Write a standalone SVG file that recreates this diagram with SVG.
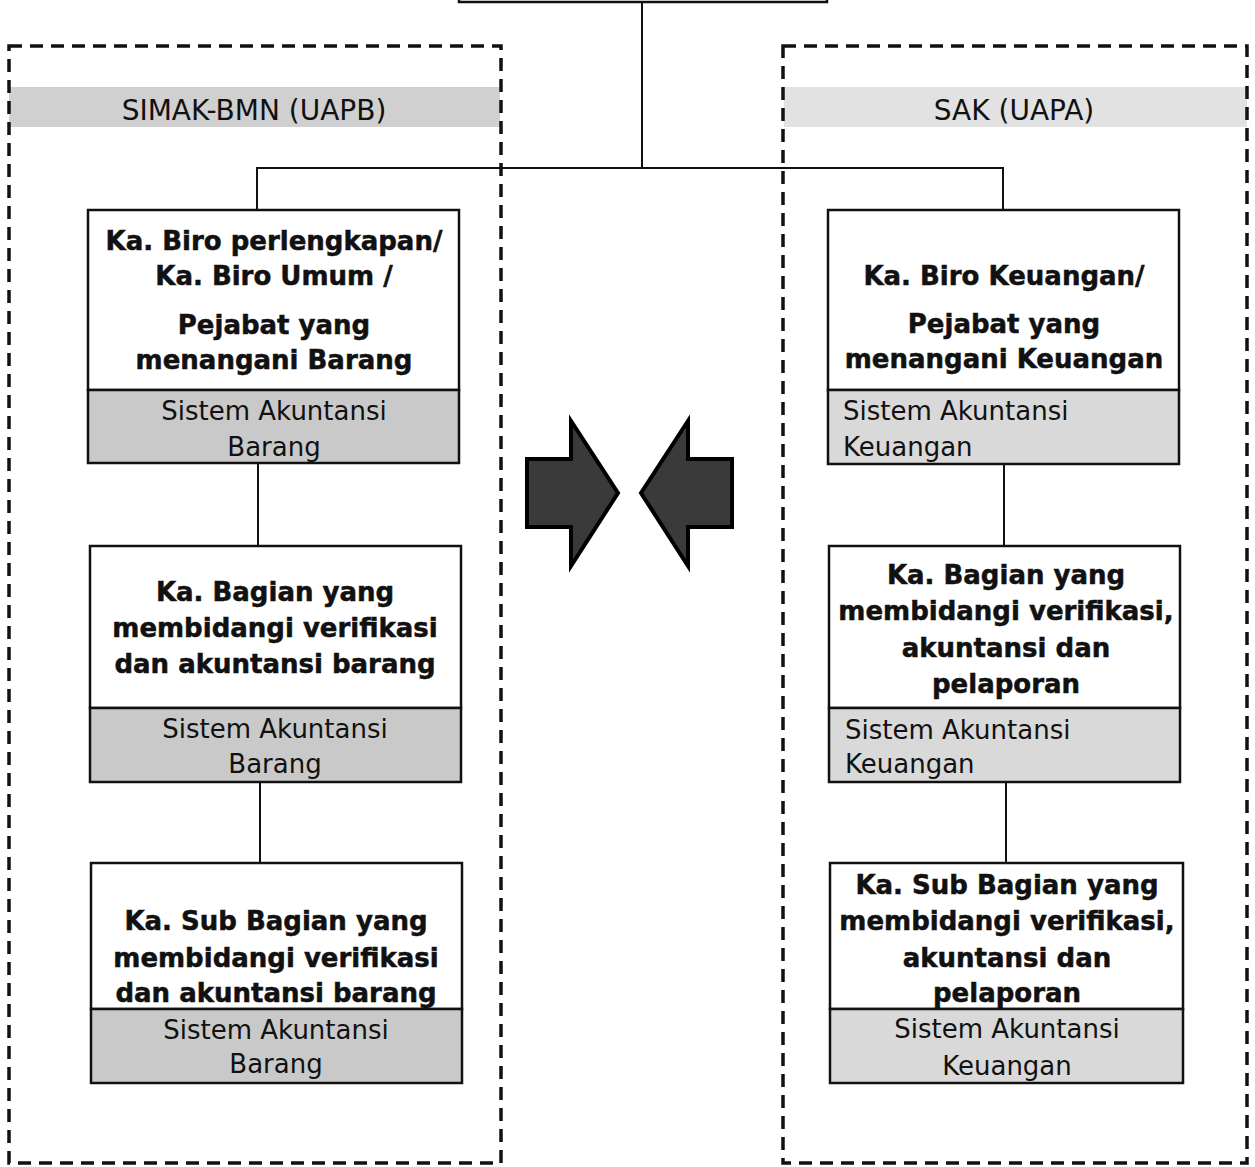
<svg xmlns="http://www.w3.org/2000/svg" width="1255" height="1167" viewBox="0 0 1255 1167">
<style>
.cont{fill:none;stroke:#111;stroke-width:3.5;stroke-dasharray:13 8}
.box{fill:#fff;stroke:#111;stroke-width:2.5}
.bandL{fill:#c9c9c9;stroke:#111;stroke-width:2.5}
.bandR{fill:#d9d9d9;stroke:#111;stroke-width:2.5}
.hdrL{fill:#d0d0d0}
.hdrR{fill:#e2e2e2}
.t{font-family:"DejaVu Sans","Liberation Sans",sans-serif;font-weight:bold;font-size:26px;fill:#111;stroke:#111;stroke-width:0.5;text-anchor:middle}
.s{font-family:"DejaVu Sans","Liberation Sans",sans-serif;font-size:26px;fill:#111}
.c{text-anchor:middle}
.h{font-family:"DejaVu Sans","Liberation Sans",sans-serif;font-size:28px;fill:#111;text-anchor:middle}
.line{fill:none;stroke:#111;stroke-width:2}
.arrow{fill:#3a3a3a;stroke:#000;stroke-width:4;stroke-linejoin:miter}
</style>
<rect width="1255" height="1167" fill="#fff"/>

<g id="top-box">
<rect class="box" x="459" y="-20" width="368" height="22"/>
</g>

<g id="container-left">
<rect class="hdrL" x="9" y="87" width="491" height="40"/>
<rect class="cont" x="9" y="46" width="492" height="1117"/>
<text class="h" x="254" y="120">SIMAK-BMN (UAPB)</text>
</g>

<g id="container-right">
<rect class="hdrR" x="784" y="87" width="463" height="40"/>
<rect class="cont" x="783" y="46" width="464" height="1117"/>
<text class="h" x="1014" y="120">SAK (UAPA)</text>
</g>

<g id="connectors">
<line class="line" x1="642" y1="2" x2="642" y2="168"/>
<polyline class="line" points="257,210 257,168 1003,168 1003,210"/>
<line class="line" x1="258" y1="463" x2="258" y2="546"/>
<line class="line" x1="260" y1="782" x2="260" y2="863"/>
<line class="line" x1="1004" y1="464" x2="1004" y2="546"/>
<line class="line" x1="1006" y1="782" x2="1006" y2="863"/>
</g>

<g id="L1">
<rect class="box" x="88" y="210" width="371" height="180"/>
<rect class="bandL" x="88" y="390" width="371" height="73"/>
<text class="t" x="274" y="250">Ka. Biro perlengkapan/</text>
<text class="t" x="274" y="285">Ka. Biro Umum /</text>
<text class="t" x="274" y="334">Pejabat yang</text>
<text class="t" x="274" y="369">menangani Barang</text>
<text class="s c" x="274" y="420">Sistem Akuntansi</text>
<text class="s c" x="274" y="456">Barang</text>
</g>

<g id="L2">
<rect class="box" x="90" y="546" width="371" height="162"/>
<rect class="bandL" x="90" y="708" width="371" height="74"/>
<text class="t" x="275" y="601">Ka. Bagian yang</text>
<text class="t" x="275" y="637">membidangi verifikasi</text>
<text class="t" x="275" y="673">dan akuntansi barang</text>
<text class="s c" x="275" y="738">Sistem Akuntansi</text>
<text class="s c" x="275" y="773">Barang</text>
</g>

<g id="L3">
<rect class="box" x="91" y="863" width="371" height="146"/>
<rect class="bandL" x="91" y="1009" width="371" height="74"/>
<text class="t" x="276" y="930">Ka. Sub Bagian yang</text>
<text class="t" x="276" y="967">membidangi verifikasi</text>
<text class="t" x="276" y="1002">dan akuntansi barang</text>
<text class="s c" x="276" y="1039">Sistem Akuntansi</text>
<text class="s c" x="276" y="1073">Barang</text>
</g>

<g id="R1">
<rect class="box" x="828" y="210" width="351" height="180"/>
<rect class="bandR" x="828" y="390" width="351" height="74"/>
<text class="t" x="1004" y="285">Ka. Biro Keuangan/</text>
<text class="t" x="1004" y="333">Pejabat yang</text>
<text class="t" x="1004" y="368">menangani Keuangan</text>
<text class="s" x="843" y="420">Sistem Akuntansi</text>
<text class="s" x="843" y="456">Keuangan</text>
</g>

<g id="R2">
<rect class="box" x="829" y="546" width="351" height="162"/>
<rect class="bandR" x="829" y="708" width="351" height="74"/>
<text class="t" x="1006" y="584">Ka. Bagian yang</text>
<text class="t" x="1006" y="620">membidangi verifikasi,</text>
<text class="t" x="1006" y="657">akuntansi dan</text>
<text class="t" x="1006" y="693">pelaporan</text>
<text class="s" x="845" y="739">Sistem Akuntansi</text>
<text class="s" x="845" y="773">Keuangan</text>
</g>

<g id="R3">
<rect class="box" x="830" y="863" width="353" height="146"/>
<rect class="bandR" x="830" y="1009" width="353" height="74"/>
<text class="t" x="1007" y="894">Ka. Sub Bagian yang</text>
<text class="t" x="1007" y="930">membidangi verifikasi,</text>
<text class="t" x="1007" y="967">akuntansi dan</text>
<text class="t" x="1007" y="1002">pelaporan</text>
<text class="s c" x="1007" y="1038">Sistem Akuntansi</text>
<text class="s c" x="1007" y="1075">Keuangan</text>
</g>

<g id="arrow-right">
<polygon class="arrow" points="527,459 571,459 571,421 618,493 571,566 571,527 527,527"/>
</g>
<g id="arrow-left">
<polygon class="arrow" points="732,459 688,459 688,421 641,493 688,566 688,527 732,527"/>
</g>
</svg>
